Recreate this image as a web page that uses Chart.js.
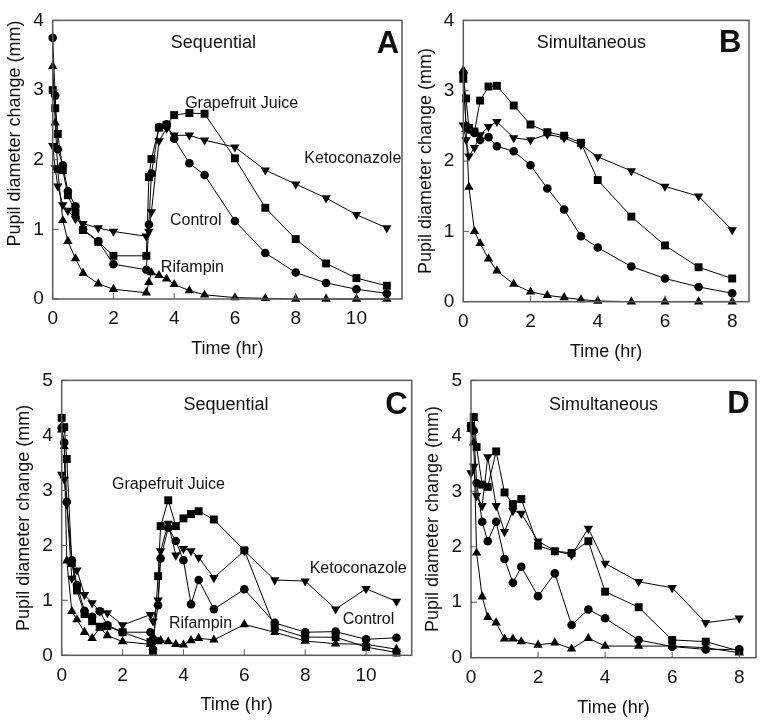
<!DOCTYPE html>
<html>
<head>
<meta charset="utf-8">
<title>Pupil diameter change</title>
<script src="https://cdn.jsdelivr.net/npm/chart.js@4.4.1/dist/chart.umd.min.js"></script>
<style>
  html, body { margin: 0; padding: 0; background: #fff; }
  #page { position: relative; width: 764px; height: 725px; overflow: hidden; }
  .panel { position: absolute; }
</style>
</head>
<body>
<div id="page">
  <canvas id="panelA" class="panel" width="410" height="365" style="left:0;top:0"></canvas>
  <canvas id="panelB" class="panel" width="354" height="365" style="left:410px;top:0"></canvas>
  <canvas id="panelC" class="panel" width="420" height="365" style="left:0;top:360px"></canvas>
  <canvas id="panelD" class="panel" width="344" height="365" style="left:420px;top:360px"></canvas>
</div>
<script>
// ---- data (time in hr, pupil diameter change in mm) ----

// A: sequential, first study
const timeA = [0, 0.083, 0.167, 0.333, 0.5, 0.75, 1, 1.5, 2, 3.083, 3.167, 3.25, 3.5, 3.75, 4, 4.5, 5, 6, 7, 8, 9, 10, 11];
const grapefruitA = [3.0, 2.74, 2.37, 1.85, 1.49, 1.24, 0.99, 0.82, 0.62, 0.62, 1.75, 2.01, 2.46, 2.5, 2.64, 2.67, 2.66, 2.02, 1.31, 0.86, 0.51, 0.3, 0.19];
const controlA = [3.75, 2.92, 2.15, 1.92, 1.55, 1.33, 1.0, 0.83, 0.5, 0.42, 1.07, 1.8, 2.47, 2.51, 2.3, 1.95, 1.78, 1.12, 0.66, 0.38, 0.23, 0.14, 0.08];
const ketoconazoleA = [2.2, 1.88, 1.62, 1.35, 1.27, 1.15, 1.08, 1.02, 0.97, 0.9, 0.97, 1.25, 2.27, 2.45, 2.35, 2.35, 2.28, 2.18, 1.85, 1.65, 1.45, 1.21, 1.02];
const rifampinA = [3.34, 2.53, 1.85, 1.13, 0.83, 0.58, 0.37, 0.22, 0.14, 0.09, 0.24, 0.38, 0.34, 0.29, 0.21, 0.12, 0.06, 0.02, 0.01, 0, 0, 0, 0];

// B: simultaneous, first study
const timeB = [0, 0.083, 0.167, 0.333, 0.5, 0.75, 1, 1.5, 2, 2.5, 3, 3.5, 4, 5, 6, 7, 8];
const grapefruitB = [3.17, 2.89, 2.47, 2.42, 2.86, 3.06, 3.07, 2.79, 2.52, 2.41, 2.36, 2.26, 1.73, 1.21, 0.8, 0.49, 0.33];
const controlB = [3.25, 2.5, 2.45, 2.4, 2.3, 2.34, 2.21, 2.14, 1.94, 1.61, 1.31, 0.93, 0.77, 0.5, 0.33, 0.21, 0.12];
const ketoconazoleB = [2.51, 2.3, 2.07, 2.19, 2.37, 2.49, 2.56, 2.33, 2.3, 2.38, 2.33, 2.23, 2.06, 1.86, 1.64, 1.5, 1.02];
const rifampinB = [3.29, 2.45, 1.63, 1.0, 0.83, 0.61, 0.44, 0.25, 0.14, 0.09, 0.06, 0.03, 0.01, 0, 0, 0, 0];

// C: sequential, second study
const timeC = [0, 0.083, 0.167, 0.333, 0.5, 0.75, 1, 1.25, 1.5, 2, 2.917, 3, 3.167, 3.25, 3.5, 3.75, 4, 4.25, 4.5, 5, 6, 7, 8, 9, 10, 11];
const grapefruitC = [4.32, 4.15, 3.57, 1.68, 1.18, 0.75, 0.62, 0.52, 0.53, 0.42, 0.24, 0.08, 1.44, 2.35, 2.82, 2.35, 2.49, 2.57, 2.62, 2.47, 1.91, 0.5, 0.33, 0.33, 0.15, 0.05];
const controlC = [4.14, 3.87, 2.79, 1.73, 1.28, 0.81, 0.7, 0.8, 0.55, 0.42, 0.42, 0.3, 0.91, 1.76, 2.32, 2.08, 1.73, 0.93, 1.37, 0.84, 1.2, 0.59, 0.42, 0.43, 0.29, 0.32];
const ketoconazoleC = [3.29, 3.2, 2.75, 1.4, 1.55, 1.1, 0.95, 0.8, 0.77, 0.55, 0.74, 0.62, 1.0, 1.9, 2.4, 1.82, 1.94, 1.9, 1.78, 1.41, 1.9, 1.37, 1.35, 0.84, 1.21, 0.98];
const rifampinC = [4.1, 3.8, 1.72, 0.8, 0.65, 0.42, 0.31, 0.5, 0.36, 0.25, 0.2, 0.15, 0.25, 0.27, 0.25, 0.2, 0.19, 0.27, 0.31, 0.28, 0.56, 0.42, 0.26, 0.21, 0.2, 0.11];

// D: simultaneous, second study
const timeD = [0, 0.083, 0.167, 0.333, 0.5, 0.75, 1, 1.25, 1.5, 2, 2.5, 3, 3.5, 4, 5, 6, 7, 8];
const grapefruitD = [4.18, 4.34, 3.8, 3.12, 3.08, 3.72, 2.98, 2.77, 2.86, 2.02, 1.92, 1.89, 2.1, 1.19, 0.91, 0.32, 0.29, 0.12];
const controlD = [4.18, 4.09, 3.15, 2.45, 2.1, 2.45, 1.78, 1.35, 1.64, 1.11, 1.52, 0.59, 0.87, 0.71, 0.32, 0.2, 0.15, 0.15];
const ketoconazoleD = [3.33, 3.45, 2.92, 2.74, 3.62, 2.74, 2.27, 2.65, 2.6, 2.1, 1.93, 1.85, 2.33, 1.7, 1.37, 1.26, 0.63, 0.71];
const rifampinD = [4.12, 3.88, 1.89, 1.1, 0.73, 0.63, 0.34, 0.34, 0.29, 0.23, 0.27, 0.16, 0.35, 0.21, 0.21, 0.21, 0.18, 0.09];

// ---- drawing ----
const FONT = "'Liberation Sans', Arial, Helvetica, sans-serif";
Chart.defaults.font.family = FONT;
Chart.defaults.color = '#111';

const FRAME = '#5a5a5a';

// marker style per treatment
const markers = {
  Control:        { pointStyle: 'circle',   pointRadius: 4.3, rotation: 0 },
  GrapefruitJuice:{ pointStyle: 'rect',     pointRadius: 5.6, rotation: 0 },
  Ketoconazole:   { pointStyle: 'triangle', pointRadius: 5.4, rotation: 180 },
  Rifampin:       { pointStyle: 'triangle', pointRadius: 5.4, rotation: 0 }
};

function makeSet(name, times, values) {
  const m = markers[name];
  return {
    label: name,
    data: times.map((t, i) => ({ x: t, y: values[i] })),
    showLine: true,
    borderColor: '#000',
    borderWidth: 1,
    backgroundColor: '#000',
    pointBackgroundColor: '#000',
    pointBorderColor: '#000',
    pointBorderWidth: 0,
    pointStyle: m.pointStyle,
    pointRadius: m.pointRadius,
    pointRotation: m.rotation,
    clip: false
  };
}

// frame, inward tick marks and in-plot labels
function decoPlugin(notes) {
  return {
    id: 'deco',
    afterDraw(chart) {
      const { ctx, chartArea: a, scales } = chart;
      ctx.save();
      ctx.strokeStyle = FRAME;
      ctx.lineWidth = 1.5;
      ctx.strokeRect(a.left, a.top, a.right - a.left, a.bottom - a.top);
      ctx.lineWidth = 1;
      ctx.beginPath();
      scales.y.ticks.forEach(t => {
        const py = scales.y.getPixelForValue(t.value);
        ctx.moveTo(a.left, py);
        ctx.lineTo(a.left + 6, py);
      });
      scales.x.ticks.forEach(t => {
        const px = scales.x.getPixelForValue(t.value);
        ctx.moveTo(px, a.bottom);
        ctx.lineTo(px, a.bottom - 6);
      });
      ctx.stroke();

      ctx.fillStyle = '#111';
      ctx.textAlign = 'center';
      ctx.textBaseline = 'middle';
      notes.forEach(n => {
        ctx.font = (n.bold ? 'bold ' : '') + n.size + 'px ' + FONT;
        ctx.fillText(n.text, scales.x.getPixelForValue(n.x), scales.y.getPixelForValue(n.y));
      });
      ctx.restore();
    }
  };
}

function makePanel(id, cfg) {
  return new Chart(document.getElementById(id), {
    type: 'scatter',
    data: {
      datasets: [
        makeSet('Rifampin', cfg.time, cfg.rifampin),
        makeSet('Control', cfg.time, cfg.control),
        makeSet('Ketoconazole', cfg.time, cfg.ketoconazole),
        makeSet('GrapefruitJuice', cfg.time, cfg.grapefruit)
      ]
    },
    options: {
      responsive: false,
      animation: false,
      events: [],
      layout: { padding: cfg.padding },
      plugins: { legend: { display: false }, tooltip: { enabled: false } },
      scales: {
        x: {
          type: 'linear',
          min: 0,
          max: cfg.xMax,
          grid: { display: false, drawTicks: false },
          border: { display: false },
          ticks: { stepSize: 2, includeBounds: false, padding: 8.6, maxRotation: 0, autoSkip: false, font: { size: 19 }, color: '#111' },
          title: { display: true, text: 'Time (hr)', font: { size: 18 }, padding: 0, color: '#111' },
          afterFit: s => { s.height = 61; }
        },
        y: {
          min: 0,
          max: cfg.yMax,
          grid: { display: false, drawTicks: false },
          border: { display: false },
          ticks: { stepSize: 1, includeBounds: false, padding: 9, font: { size: 19 }, color: '#111' },
          title: { display: true, text: 'Pupil diameter change (mm)', font: { size: 18 }, padding: 0, align: cfg.yTitleAlign, color: '#111' },
          afterFit: s => { s.width = 48.3; }
        }
      }
    },
    plugins: [decoPlugin(cfg.notes)]
  });
}

makePanel('panelA', {
  time: timeA, grapefruit: grapefruitA, control: controlA, ketoconazole: ketoconazoleA, rifampin: rifampinA,
  xMax: 11.5, yMax: 4, yTitleAlign: 'end',
  padding: { left: 4.4, top: 13, right: 8, bottom: 5 },
  notes: [
    { text: 'Sequential', x: 5.29, y: 3.67, size: 18 },
    { text: 'Grapefruit Juice', x: 6.22, y: 2.81, size: 16 },
    { text: 'Ketoconazole', x: 9.88, y: 2.02, size: 16 },
    { text: 'Control', x: 4.71, y: 1.13, size: 16 },
    { text: 'Rifampin', x: 4.6, y: 0.45, size: 16 },
    { text: 'A', x: 11.04, y: 3.66, size: 31, bold: true }
  ]
});

makePanel('panelB', {
  time: timeB, grapefruit: grapefruitB, control: controlB, ketoconazole: ketoconazoleB, rifampin: rifampinB,
  xMax: 8.5, yMax: 4, yTitleAlign: 'center',
  padding: { left: 5, top: 15.7, right: 15, bottom: 2.3 },
  notes: [
    { text: 'Simultaneous', x: 3.81, y: 3.68, size: 18 },
    { text: 'B', x: 7.94, y: 3.67, size: 31, bold: true }
  ]
});

makePanel('panelC', {
  time: timeC, grapefruit: grapefruitC, control: controlC, ketoconazole: ketoconazoleC, rifampin: rifampinC,
  xMax: 11.5, yMax: 5, yTitleAlign: 'center',
  padding: { left: 13.4, top: 10.7, right: 8.3, bottom: 8.7 },
  notes: [
    { text: 'Sequential', x: 5.4, y: 4.56, size: 18 },
    { text: 'Grapefruit Juice', x: 3.51, y: 3.11, size: 16 },
    { text: 'Ketoconazole', x: 9.74, y: 1.57, size: 16 },
    { text: 'Control', x: 10.08, y: 0.65, size: 16 },
    { text: 'Rifampin', x: 4.56, y: 0.57, size: 16 },
    { text: 'C', x: 11.0, y: 4.54, size: 31, bold: true }
  ]
});

makePanel('panelD', {
  time: timeD, grapefruit: grapefruitD, control: controlD, ketoconazole: ketoconazoleD, rifampin: rifampinD,
  xMax: 8.5, yMax: 5, yTitleAlign: 'center',
  padding: { left: 2.7, top: 13.3, right: 8, bottom: 6.3 },
  notes: [
    { text: 'Simultaneous', x: 3.95, y: 4.55, size: 18 },
    { text: 'D', x: 7.98, y: 4.56, size: 31, bold: true }
  ]
});
</script>
</body>
</html>
